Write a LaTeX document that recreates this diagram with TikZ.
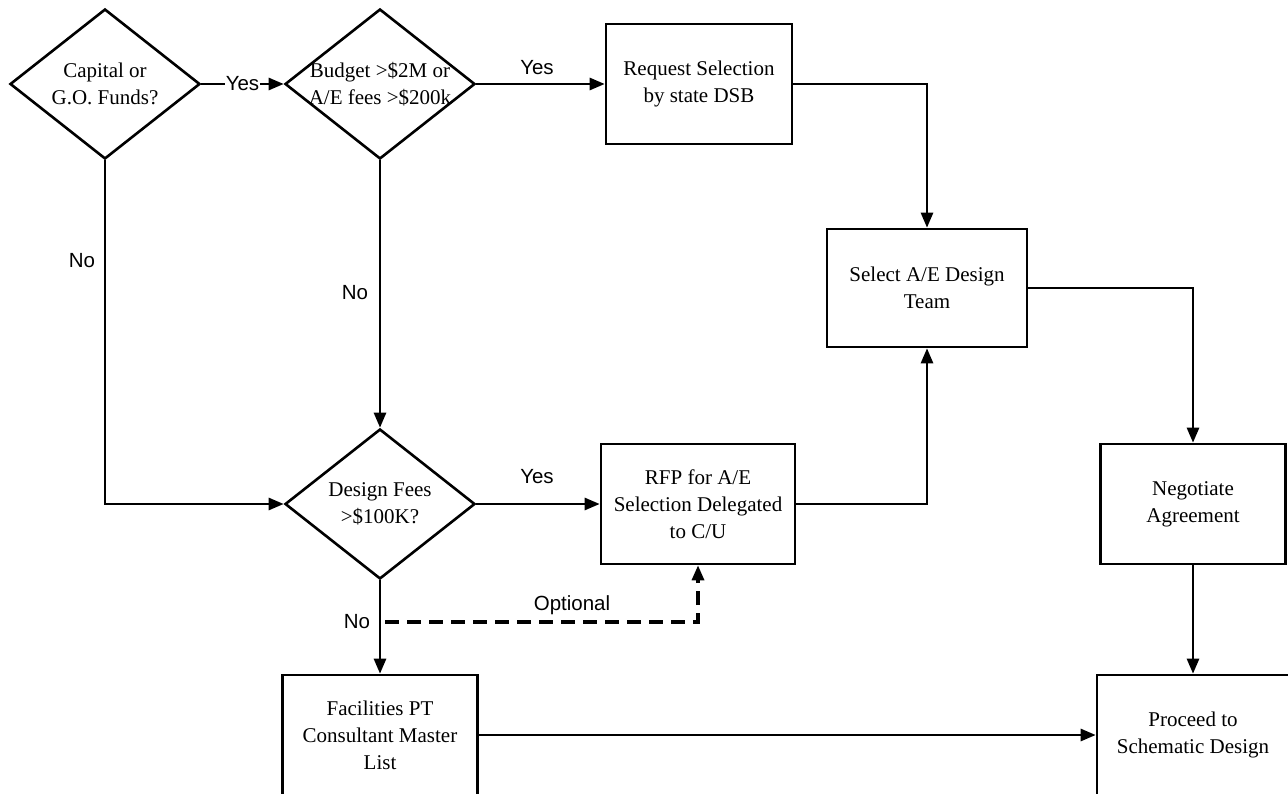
\documentclass[tikz,border=0pt]{standalone}
\usepackage{fontspec}
\setmainfont{Liberation Serif}
\newfontfamily\labfont{Liberation Sans}
\usetikzlibrary{shapes.geometric,arrows.meta}
\begin{document}
\begin{tikzpicture}[x=1pt,y=-1pt,
  stepbox/.style={draw, line width=2.6pt, rectangle, align=center, inner sep=0pt,
    font=\fontsize{21}{27}\selectfont},
  dia/.style={draw, line width=2.6pt, diamond, inner sep=0pt,
    minimum width=190pt, minimum height=150pt},
  diatext/.style={align=center, inner sep=0pt, font=\fontsize{21}{27}\selectfont},
  lab/.style={inner sep=1pt, font=\labfont\fontsize{20.5}{24}\selectfont},
  arr/.style={line width=2.6pt, -{Triangle[length=15pt,width=12pt]}}]
\useasboundingbox (0,0) rectangle (1288,794);
% decisions
\node[dia] (d1) at (105,84) {};
\node[diatext] (d1t) at (d1.center) {Capital or\\G.O. Funds?};
\node[dia] (d2) at (380,84) {};
\node[diatext] (d2t) at (d2.center) {Budget >\$2M or\\A/E fees >\$200k};
\node[dia] (d3) at (380,504) {};
\node[diatext] (d3t) at (d3.center) {Design Fees\\>\$100K?};
% boxes
\node[stepbox, minimum width=186pt, minimum height=120pt] (req) at (699,84) {Request Selection\\by state DSB};
\node[stepbox, minimum width=200pt, minimum height=118pt] (sel) at (927,288) {Select A/E Design\\Team};
\node[stepbox, minimum width=194pt, minimum height=120pt] (rfp) at (698,504) {RFP for A/E\\Selection Delegated\\to C/U};
\node[stepbox, minimum width=185pt, minimum height=120pt] (neg) at (1193,504) {Negotiate\\Agreement};
\node[stepbox, minimum width=195pt, minimum height=120pt] (fac) at (380,735) {Facilities PT\\Consultant Master\\List};
\node[stepbox, minimum width=192pt, minimum height=120pt] (pro) at (1193,735) {Proceed to\\Schematic Design};
% connectors
\draw[arr] (d1.east) -- node[lab, fill=white] (ly1) {Yes} (d2.west);
\draw[arr] (d2.east) -- (req.west);
\node[lab] (ly2) at (537,68) {Yes};
\draw[arr] (req.east) -| (sel.north);
\draw[arr] (sel.east) -| (neg.north);
\draw[arr] (neg.south) -- (pro.north);
\draw[arr] (d1.south) |- (d3.west);
\node[lab] (ln1) at (82,261) {No};
\draw[arr] (d2.south) -- (d3.north);
\node[lab] (ln2) at (355,293) {No};
\draw[arr] (d3.east) -- (rfp.west);
\node[lab] (ly3) at (537,477) {Yes};
\draw[arr] (rfp.east) -| (sel.south);
\draw[arr] (d3.south) -- (fac.north);
\node[lab] (ln3) at (357,622) {No};
\draw[arr] (fac.east) -- (pro.west);
\coordinate (ds) at (385,622);
\draw[arr, line width=3.2pt, dash pattern=on 14pt off 8pt] (ds) -| (rfp.south);
\node[lab] (lopt) at (572,605) {Optional};
\end{tikzpicture}
\end{document}
